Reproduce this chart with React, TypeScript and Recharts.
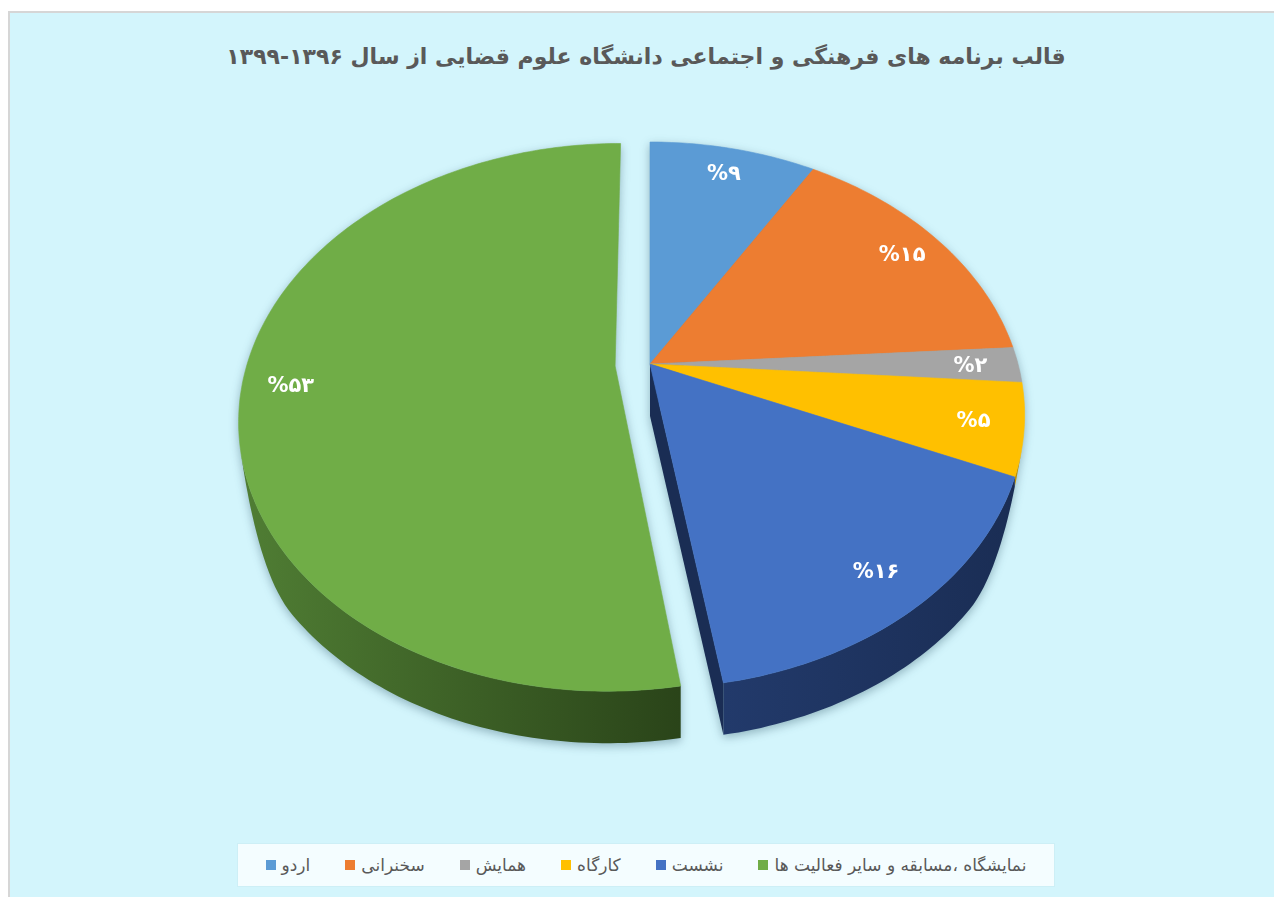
import React from 'react'
import { PieChart, Pie, Legend } from 'recharts'

// chart data (shares in %; labels round them)
const categories = ['اردو', 'سخنرانی', 'همایش', 'کارگاه', 'نشست', 'نمایشگاه ،مسابقه و سایر فعالیت ها']
const shares = [8.6, 15.4, 2.1, 5.4, 15.9, 52.6]
const colors = ['#5B9BD5', '#ED7D31', '#A5A5A5', '#FFC000', '#4472C4', '#70AD47']
const sideColors = [
  ['#3E75A6', '#2F5B84'],
  ['#B65D1F', '#8F4716'],
  ['#7D7D7D', '#5F5F5F'],
  ['#C29200', '#9A7400'],
  ['#223A6B', '#1A2D54'],
  ['#507E34', '#2A4419'],
]
const title = 'قالب برنامه های فرهنگی و اجتماعی دانشگاه علوم قضایی از سال ۱۳۹۶\u200F-۱۳۹۹'

const pieData = categories.map((name, i) => ({ name, value: shares[i] }))

// 3d look: flat disc seen in perspective
const CX = 640
const CY = 351
const RX = 368
const RY = 263.5
const PERSP = 0.187
const DEPTH = 52
const EXPLODED = 5
const EXPLODE = 0.095
const RAD = Math.PI / 180

const faDigits = '۰۱۲۳۴۵۶۷۸۹'
const toFa = (n: number) => String(n).replace(/\d/g, (d) => faDigits[Number(d)])

type Pt = [number, number]

// disc coords (u, v) -> screen
function toScreen(cx: number, cy: number, u: number, v: number): Pt {
  const s = 1 / (1 + PERSP * v)
  return [cx + RX * u * s, cy - RY * v * s]
}

function shift(props: any): Pt {
  if (props.index !== EXPLODED) return [0, 0]
  return [EXPLODE * Math.cos(props.midAngle * RAD), EXPLODE * Math.sin(props.midAngle * RAD)]
}

function rimPoint(props: any, angle: number, r = 1): Pt {
  const [du, dv] = shift(props)
  return toScreen(props.cx, props.cy, r * Math.cos(angle * RAD) + du, r * Math.sin(angle * RAD) + dv)
}

function wallDepth(angle: number) {
  const s = -Math.sin(angle * RAD)
  const t = Math.min(1, Math.max(0, (s - 0.3) / 0.35))
  return DEPTH * t * t * (3 - 2 * t)
}

function arcAngles(a1: number, a2: number) {
  const n = Math.max(2, Math.ceil(Math.abs(a2 - a1)) + 1)
  const out: number[] = []
  for (let i = 0; i < n; i++) out.push(a1 + ((a2 - a1) * i) / (n - 1))
  return out
}

const pts = (list: Pt[]) => list.map((p) => `${p[0].toFixed(1)},${p[1].toFixed(1)}`).join(' ')

// side walls + cut faces
const renderSide = (props: any) => {
  const { startAngle, endAngle, index } = props
  const apex = rimPoint(props, 0, 0)
  const gid = `side-grad-${index}`
  const parts: React.ReactNode[] = []
  const a1 = Math.min(startAngle, 0)
  const a2 = Math.max(endAngle, -180)
  if (a1 > a2) {
    const angles = arcAngles(a1, a2)
    const top = angles.map((a) => rimPoint(props, a))
    const bottom = angles.map((a, i) => [top[i][0], top[i][1] + wallDepth(a)] as Pt)
    parts.push(<polygon key="rim" points={pts([...top, ...bottom.reverse()])} fill={`url(#${gid})`} />)
  }
  const neighbour = index === EXPLODED || index === EXPLODED - 1 || index === (EXPLODED + 1) % shares.length
  if (neighbour) {
    ;[
      [startAngle, startAngle + 90],
      [endAngle, endAngle - 90],
    ].forEach(([a, n], k) => {
      if (Math.sin(n * RAD) < -0.01) {
        const rim = rimPoint(props, a)
        parts.push(
          <polygon
            key={`cut${k}`}
            points={pts([apex, rim, [rim[0], rim[1] + wallDepth(a)], [apex[0], apex[1] + DEPTH]])}
            fill={sideColors[index][1]}
          />
        )
      }
    })
  }
  return (
    <g key={`side-${index}`}>
      <defs>
        <linearGradient id={gid} x1="0" y1="0" x2="1" y2="0">
          <stop offset="0%" stopColor={sideColors[index][0]} />
          <stop offset="100%" stopColor={sideColors[index][1]} />
        </linearGradient>
      </defs>
      {parts}
    </g>
  )
}

// top faces
const renderTop = (props: any) => {
  const { startAngle, endAngle, index } = props
  const apex = rimPoint(props, 0, 0)
  const arc = arcAngles(startAngle, endAngle).map((a) => rimPoint(props, a))
  return (
    <polygon
      key={`top-${index}`}
      points={pts([apex, ...arc])}
      fill={colors[index]}
      stroke={colors[index]}
      strokeWidth={0.6}
    />
  )
}

const renderValue = (props: any) => {
  const { midAngle, index, percent } = props
  const [x, y] = rimPoint(props, midAngle, 0.87)
  return (
    <text
      key={`lbl-${index}`}
      x={x}
      y={y}
      fill="#FFFFFF"
      textAnchor="middle"
      dominantBaseline="central"
      fontFamily="'DejaVu Sans', sans-serif"
      fontWeight="bold"
      fontSize={21}
    >
      {'%' + toFa(Math.round(percent * 100))}
    </text>
  )
}

const LegendBox = () => (
  <div
    style={{
      width: '100%',
      height: '100%',
      boxSizing: 'border-box',
      background: '#F4FDFF',
      border: '1px solid #CDEFF6',
      display: 'flex',
      direction: 'ltr',
      alignItems: 'center',
      justifyContent: 'center',
      gap: 35,
      fontFamily: "'DejaVu Sans', sans-serif",
      fontSize: 17,
      color: '#595959',
    }}
  >
    {categories.map((name, i) => (
      <div key={name} style={{ display: 'flex', alignItems: 'center', gap: 6 }}>
        <span style={{ width: 10, height: 10, background: colors[i], display: 'inline-block' }} />
        <span style={{ direction: 'rtl' }}>{name}</span>
      </div>
    ))}
  </div>
)

export default function App() {
  return (
    <div
      className="pie3d"
      style={{
        position: 'fixed',
        left: 8,
        top: 11,
        width: 1266,
        height: 886,
        background: '#D3F5FC',
        borderTop: '2px solid #D6D6D6',
        borderLeft: '2px solid #D6D6D6',
      }}
    >
      <style>{'.pie3d svg.recharts-surface { filter: drop-shadow(0px 3px 5px rgba(20, 60, 80, 0.35)); }'}</style>
      <div
        style={{
          position: 'absolute',
          left: 0,
          top: 24,
          width: 1272,
          textAlign: 'center',
          direction: 'rtl',
          fontFamily: "'DejaVu Sans', sans-serif",
          fontWeight: 'bold',
          fontSize: 22,
          lineHeight: '40px',
          color: '#595959',
        }}
      >
        {title}
      </div>
      <PieChart width={1262} height={884} margin={{ top: 0, right: 0, bottom: 0, left: 0 }}>
        <Pie
          data={pieData}
          dataKey="value"
          nameKey="name"
          cx={CX}
          cy={CY}
          outerRadius={RX}
          startAngle={90}
          endAngle={-270}
          fill="transparent"
          stroke="none"
          label={renderSide}
          labelLine={false}
          isAnimationActive={false}
        />
        <Pie
          data={pieData}
          dataKey="value"
          nameKey="name"
          cx={CX}
          cy={CY}
          outerRadius={RX}
          startAngle={90}
          endAngle={-270}
          fill="transparent"
          stroke="none"
          label={renderTop}
          labelLine={false}
          isAnimationActive={false}
        />
        <Pie
          data={pieData}
          dataKey="value"
          nameKey="name"
          cx={CX}
          cy={CY}
          outerRadius={RX}
          startAngle={90}
          endAngle={-270}
          fill="transparent"
          stroke="none"
          label={renderValue}
          labelLine={false}
          isAnimationActive={false}
        />
        <Legend
          content={() => <LegendBox />}
          wrapperStyle={{ left: 227, top: 830, width: 818, height: 44 }}
        />
      </PieChart>
    </div>
  )
}
